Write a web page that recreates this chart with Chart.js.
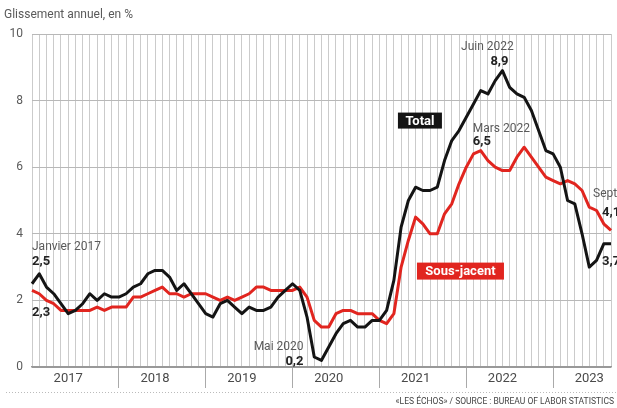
<!DOCTYPE html>
<html>
<head>
<meta charset="utf-8">
<script src="https://cdn.jsdelivr.net/npm/chart.js@4.4.0/dist/chart.umd.min.js"></script>
<style>
  html, body { margin: 0; padding: 0; background: #fff; }
  #wrap { width: 617px; height: 408px; position: relative; }
</style>
</head>
<body>
<div id="wrap"><canvas id="graphique"></canvas></div>
<script>
// Années affichées sur l'axe
const annees = ['2017', '2018', '2019', '2020', '2021', '2022', '2023'];

// Mois de janvier 2017 à septembre 2023
const mois = [];
annees.forEach(a => {
    for (let m = 1; m <= 12; m++) {
        if (a === '2023' && m > 9) break;
        mois.push(a + '-' + String(m).padStart(2, '0'));
    }
});

// Inflation totale, glissement annuel en %
const total = [
    2.5, 2.8, 2.4, 2.2, 1.9, 1.6, 1.7, 1.9, 2.2, 2.0, 2.2, 2.1,
    2.1, 2.2, 2.4, 2.5, 2.8, 2.9, 2.9, 2.7, 2.3, 2.5, 2.2, 1.9,
    1.6, 1.5, 1.9, 2.0, 1.8, 1.6, 1.8, 1.7, 1.7, 1.8, 2.1, 2.3,
    2.5, 2.3, 1.5, 0.3, 0.2, 0.6, 1.0, 1.3, 1.4, 1.2, 1.2, 1.4,
    1.4, 1.7, 2.6, 4.2, 5.0, 5.4, 5.3, 5.3, 5.4, 6.2, 6.8, 7.1,
    7.5, 7.9, 8.3, 8.2, 8.6, 8.9, 8.4, 8.2, 8.1, 7.7, 7.1, 6.5,
    6.4, 6.0, 5.0, 4.9, 4.0, 3.0, 3.2, 3.7, 3.7
];

// Inflation sous-jacente
const sousJacent = [
    2.3, 2.2, 2.0, 1.9, 1.7, 1.7, 1.7, 1.7, 1.7, 1.8, 1.7, 1.8,
    1.8, 1.8, 2.1, 2.1, 2.2, 2.3, 2.4, 2.2, 2.2, 2.1, 2.2, 2.2,
    2.2, 2.1, 2.0, 2.1, 2.0, 2.1, 2.2, 2.4, 2.4, 2.3, 2.3, 2.3,
    2.3, 2.4, 2.1, 1.4, 1.2, 1.2, 1.6, 1.7, 1.7, 1.6, 1.6, 1.6,
    1.4, 1.3, 1.6, 3.0, 3.8, 4.5, 4.3, 4.0, 4.0, 4.6, 4.9, 5.5,
    6.0, 6.4, 6.5, 6.2, 6.0, 5.9, 5.9, 6.3, 6.6, 6.3, 6.0, 5.7,
    5.6, 5.5, 5.6, 5.5, 5.3, 4.8, 4.7, 4.3, 4.1
];

const ticksY = [0, 2, 4, 6, 8, 10];

const ROUGE = '#e1251f';
const NOIR = '#141414';
const GRIS = '#5a5a5a';
const police = 'Roboto, "Liberation Sans", sans-serif';

// Annotations : point de référence (série, mois) + décalage en pixels
const annotations = [
    { serie: 0, mois: '2017-01', texte: 'Janvier 2017', dx: 0, dy: -37, align: 'left', gras: false },
    { serie: 0, mois: '2017-01', texte: '2,5', dx: 0, dy: -22, align: 'left', gras: true },
    { serie: 1, mois: '2017-01', texte: '2,3', dx: 0, dy: 22, align: 'left', gras: true },
    { serie: 0, mois: '2020-05', texte: 'Mai 2020', dx: -18, dy: -13, align: 'right', gras: false },
    { serie: 0, mois: '2020-05', texte: '0,2', dx: -18, dy: 1, align: 'right', gras: true },
    { serie: 0, mois: '2022-06', texte: 'Juin 2022', dx: -15, dy: -24, align: 'center', gras: false },
    { serie: 0, mois: '2022-06', texte: '8,9', dx: -3, dy: -9, align: 'center', gras: true },
    { serie: 1, mois: '2022-03', texte: 'Mars 2022', dx: -8, dy: -22, align: 'left', gras: false },
    { serie: 1, mois: '2022-03', texte: '6,5', dx: -8, dy: -9, align: 'left', gras: true },
    { serie: 1, mois: '2023-09', texte: 'Sept.', dx: -18, dy: -36, align: 'left', gras: false },
    { serie: 1, mois: '2023-09', texte: '4,1', dx: -9, dy: -18, align: 'left', gras: true },
    { serie: 0, mois: '2023-09', texte: '3,7', dx: -9, dy: 18, align: 'left', gras: true }
];

// Étiquettes des séries (boîtes)
const etiquettes = [
    { texte: 'Total', x: 53.6, y: 7.4, fond: NOIR, largeur: 44, hauteur: 16 },
    { texte: 'Sous-jacent', x: 59.2, y: 2.88, fond: ROUGE, largeur: 87, hauteur: 17 }
];

const pluginDecor = {
    id: 'decor',
    afterDatasetsDraw(chart) {
        const ctx = chart.ctx;
        const sx = chart.scales.x;
        const sy = chart.scales.y;
        const series = [total, sousJacent];
        ctx.save();
        ctx.textBaseline = 'middle';

        annotations.forEach(a => {
            const i = mois.indexOf(a.mois);
            const px = sx.getPixelForValue(i) + a.dx;
            const py = sy.getPixelForValue(series[a.serie][i]) + a.dy;
            ctx.font = a.gras ? 'bold 13px ' + police : '12px ' + police;
            ctx.fillStyle = a.gras ? '#222' : GRIS;
            ctx.textAlign = a.align;
            ctx.fillText(a.texte, px, py);
        });

        etiquettes.forEach(e => {
            const cx = sx.getPixelForValue(e.x);
            const cy = sy.getPixelForValue(e.y);
            ctx.fillStyle = e.fond;
            ctx.fillRect(cx - e.largeur / 2, cy - e.hauteur / 2, e.largeur, e.hauteur);
            ctx.fillStyle = '#fff';
            ctx.font = 'bold 13px ' + police;
            ctx.textAlign = 'center';
            ctx.fillText(e.texte, cx, cy + 1);
        });
        ctx.restore();
    },
    afterDraw(chart) {
        const ctx = chart.ctx;
        ctx.save();
        // titre de l'axe
        ctx.font = '12px ' + police;
        ctx.fillStyle = GRIS;
        ctx.textAlign = 'left';
        ctx.textBaseline = 'middle';
        ctx.fillText('Glissement annuel, en %', 4, 15);

        // ligne pointillée et source
        ctx.strokeStyle = '#bbb';
        ctx.lineWidth = 1;
        ctx.setLineDash([1, 2]);
        ctx.beginPath();
        ctx.moveTo(6, 392.5);
        ctx.lineTo(617, 392.5);
        ctx.stroke();
        ctx.setLineDash([]);
        ctx.font = '8.5px ' + police;
        ctx.fillStyle = '#444';
        ctx.textAlign = 'right';
        ctx.fillText('«LES ÉCHOS» / SOURCE : BUREAU OF LABOR STATISTICS', 614, 402);
        ctx.restore();
    }
};

const ctx = document.getElementById('graphique').getContext('2d');
new Chart(ctx, {
    type: 'line',
    data: {
        labels: mois,
        datasets: [
            {
                label: 'Total',
                data: total,
                borderColor: NOIR,
                borderWidth: 3,
                pointRadius: 0,
                tension: 0,
                borderJoinStyle: 'round',
                clip: false,
                order: 0
            },
            {
                label: 'Sous-jacent',
                data: sousJacent,
                borderColor: ROUGE,
                borderWidth: 3,
                pointRadius: 0,
                tension: 0,
                borderJoinStyle: 'round',
                clip: false,
                order: 1
            }
        ]
    },
    options: {
        responsive: true,
        maintainAspectRatio: false,
        animation: false,
        layout: { padding: { top: 34, right: 6, left: 0, bottom: 0 } },
        plugins: {
            legend: { display: false },
            tooltip: { enabled: false }
        },
        scales: {
            x: {
                type: 'category',
                offset: false,
                grid: {
                    offset: false,
                    color: '#cbcbcb',
                    lineWidth: 1,
                    drawTicks: true,
                    tickLength: 21,
                    tickColor: c => (c.index % 12 === 0 && c.index > 0) ? '#aaa' : 'rgba(0,0,0,0)'
                },
                border: { display: true, color: '#999', width: 1.5 },
                ticks: {
                    autoSkip: false,
                    maxRotation: 0,
                    padding: -17,
                    color: '#4a4a4a',
                    font: { family: police, size: 13 },
                    callback: (v, i) => (i % 12 === 5) ? annees[Math.floor(i / 12)] : ''
                },
                afterFit: s => { s.height = 41; }
            },
            y: {
                min: 0,
                max: 10,
                afterBuildTicks: s => { s.ticks = ticksY.map(v => ({ value: v })); },
                grid: {
                    color: c => c.tick.value === 0 ? '#999' : '#b8b8b8',
                    drawTicks: false
                },
                border: { display: false },
                ticks: {
                    padding: 9,
                    color: GRIS,
                    font: { family: police, size: 12 }
                },
                afterFit: s => { s.width = 32; }
            }
        }
    },
    plugins: [pluginDecor]
});
</script>
</body>
</html>
